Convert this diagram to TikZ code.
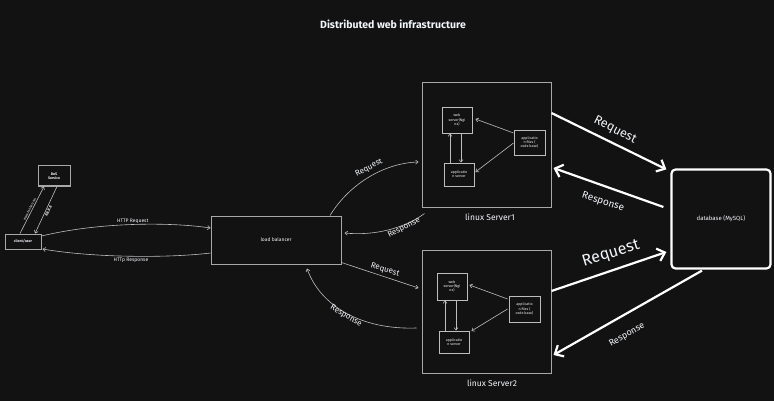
\documentclass[tikz,border=0pt]{standalone}
\usepackage{fontspec}
\setmainfont{Fira Sans}
\usetikzlibrary{arrows.meta,calc}
\definecolor{bg}{HTML}{121212}
\definecolor{txt}{HTML}{F2F5FA}
\definecolor{ln}{HTML}{BDBDBD}
\definecolor{bx}{HTML}{A8A8A8}
\tikzset{
  box/.style={draw=bx, line width=1pt, fill=bg, inner sep=0pt, text=txt, align=center},
  inbox/.style={draw=ln, line width=0.9pt, fill=bg, inner sep=0pt, text=txt, align=center, font=\fontsize{3.6}{4.2}\selectfont},
  conn/.style={draw=ln, line width=0.6pt, -{Straight Barb[length=2.5pt,width=4pt]}},
  thick conn/.style={draw=white, line width=2.2pt, -{Straight Barb[length=7pt,width=13pt,line width=2.2pt]}},
  lbl/.style={text=txt, inner sep=1pt},
}
\begin{document}
\begin{tikzpicture}[x=1pt,y=-1pt]
\fill[bg] (0,0) rectangle (774,401);
\useasboundingbox (0,0) rectangle (774,401);

\node[text=txt, font=\fontsize{10.5}{12}\selectfont\bfseries] (title) at (393,24) {Distributed web infrastructure};

% left nodes
\node[box, minimum width=32pt, minimum height=20pt, font=\fontsize{3.6}{4.4}\selectfont\bfseries] (dns) at (54,176) {DnS\\Service};
\node[box, minimum width=36pt, minimum height=15pt, font=\fontsize{3.6}{4.4}\selectfont\bfseries] (client) at (23,241.5) {client/user};
\node[box, minimum width=130pt, minimum height=48pt, font=\fontsize{5}{6}\selectfont] (lb) at (276,240) {load balancer};

% servers
\node[box, minimum width=129pt, minimum height=124pt] (s1) at (486.5,145) {};
\node[box, minimum width=129pt, minimum height=123pt] (s2) at (486.5,311.5) {};
\node[lbl, font=\fontsize{8.5}{10}\selectfont] (s1lbl) at (490,217) {linux Server1};
\node[lbl, font=\fontsize{8.5}{10}\selectfont] (s2lbl) at (492,383) {linux Server2};

\node[inbox, minimum width=30pt, minimum height=26pt] (web1) at (457,120) {web\\server(Ngi\\nx)};
\node[inbox, minimum width=30pt, minimum height=23pt] (app1) at (459,174.5) {applicatio\\n server};
\node[inbox, minimum width=31pt, minimum height=25pt] (files1) at (529.5,142.5) {applicatio\\n files (\\code base)};

\node[inbox, minimum width=30pt, minimum height=27pt] (web2) at (452,286.5) {web\\server(Ngi\\nx)};
\node[inbox, minimum width=30pt, minimum height=22pt] (app2) at (454,342) {applicatio\\n server};
\node[inbox, minimum width=31pt, minimum height=26pt] (files2) at (524.5,309) {applicatio\\n files (\\code base)};

% database
\node[draw=white, line width=2.2pt, rounded corners=4pt, fill=bg, minimum width=99pt, minimum height=99pt, inner sep=0pt, text=txt, font=\fontsize{6}{7}\selectfont] (db) at (721,219) {database (MySQL)};

% DNS connectors
\draw[conn] ([xshift=-3pt]client.north) -- node[lbl, sloped, above, font=\fontsize{3.3}{4}\selectfont] {www.foobar.com} ([xshift=-10pt]dns.south);
\draw[conn] ([xshift=3pt]dns.south) -- node[lbl, sloped, below, font=\fontsize{3.8}{4}\selectfont\bfseries] {8.8.8.8} ([xshift=12pt]client.north);

% HTTP
\draw[conn] ([yshift=5.5pt]client.east) .. controls (100,222) and (170,222) .. node[lbl, above=0pt, pos=0.5, font=\fontsize{5}{6}\selectfont] {HTTP Request} ([yshift=12pt]lb.west);
\draw[conn] ([yshift=-13pt]lb.west) .. controls (170,258) and (95,258) .. node[lbl, below=0.5pt, pos=0.5, font=\fontsize{5}{6}\selectfont] {HTTp Response} ([yshift=-7.5pt,xshift=1pt]client.east);

% LB <-> servers
\draw[conn] ([xshift=54pt]lb.north) .. controls (350,183) and (385,163) .. ([yshift=-17pt,xshift=-3pt]s1.west);
\node[lbl, rotate=28, font=\fontsize{8}{9}\selectfont] (rq1) at (369,168) {Request};
\draw[conn] ([xshift=-62pt,yshift=-6pt]s1.south) .. controls (405,228) and (375,236) .. ([xshift=3pt,yshift=7pt]lb.east);
\node[lbl, rotate=27, font=\fontsize{8}{9}\selectfont] (rs1) at (404,228) {Response};
\draw[conn] ([yshift=2pt]lb.south east) -- ([yshift=23.5pt,xshift=-3pt]s2.west);
\node[lbl, rotate=-17, font=\fontsize{8}{9}\selectfont] (rq2) at (385,270) {Request};
\draw[conn] ([yshift=-16.5pt,xshift=-5pt]s2.west) .. controls (360,330) and (320,305) .. ([xshift=31pt,yshift=-4pt]lb.south);
\node[lbl, rotate=-30, font=\fontsize{8}{9}\selectfont] (rs2) at (346,316) {Response};

% server inner arrows
\draw[conn] ([xshift=4pt]web1.south) -- ([xshift=2pt]app1.north);
\draw[conn] ([xshift=-9pt]app1.north) -- ([xshift=-7pt]web1.south);
\draw[conn] ([yshift=9.5pt]files1.west) -- ([yshift=1pt,xshift=3pt]web1.east);
\draw[conn] ([yshift=-0.5pt]files1.west) -- ([yshift=2.5pt,xshift=1pt]app1.east);

\draw[conn] ([xshift=4pt]web2.south) -- ([xshift=2pt]app2.north);
\draw[conn] ([xshift=-9pt]app2.north) -- ([xshift=-7pt]web2.south);
\draw[conn] ([yshift=10pt,xshift=-1pt]files2.west) -- ([yshift=1.5pt,xshift=2pt]web2.east);
\draw[conn] ([xshift=-1pt]files2.west) -- ([yshift=11pt,xshift=2pt]app2.east);

% DB arrows
\draw[thick conn] ([yshift=32pt]s1.east) -- ([xshift=-4pt,yshift=-1pt]db.north west);
\node[lbl, rotate=-27, font=\fontsize{12.5}{14}\selectfont] (rq3) at (615,130) {Request};
\draw[thick conn] ([xshift=-7pt,yshift=12pt]db.west) -- ([xshift=2pt,yshift=-23pt]s1.east);
\node[lbl, rotate=-18, font=\fontsize{10}{12}\selectfont] (rs3) at (603,202) {Response};
\draw[thick conn] ([yshift=20.5pt]s2.east) -- ([xshift=-4pt,yshift=-33pt]db.west);
\node[lbl, rotate=17, font=\fontsize{16}{18}\selectfont] (rq4) at (611,254) {Request};
\draw[thick conn] ([xshift=-19pt,yshift=-1pt]db.south) -- ([xshift=2pt,yshift=-43.5pt]s2.east);
\node[lbl, rotate=30, font=\fontsize{9}{10}\selectfont] (rs4) at (627,335) {Response};
\end{tikzpicture}
\end{document}
